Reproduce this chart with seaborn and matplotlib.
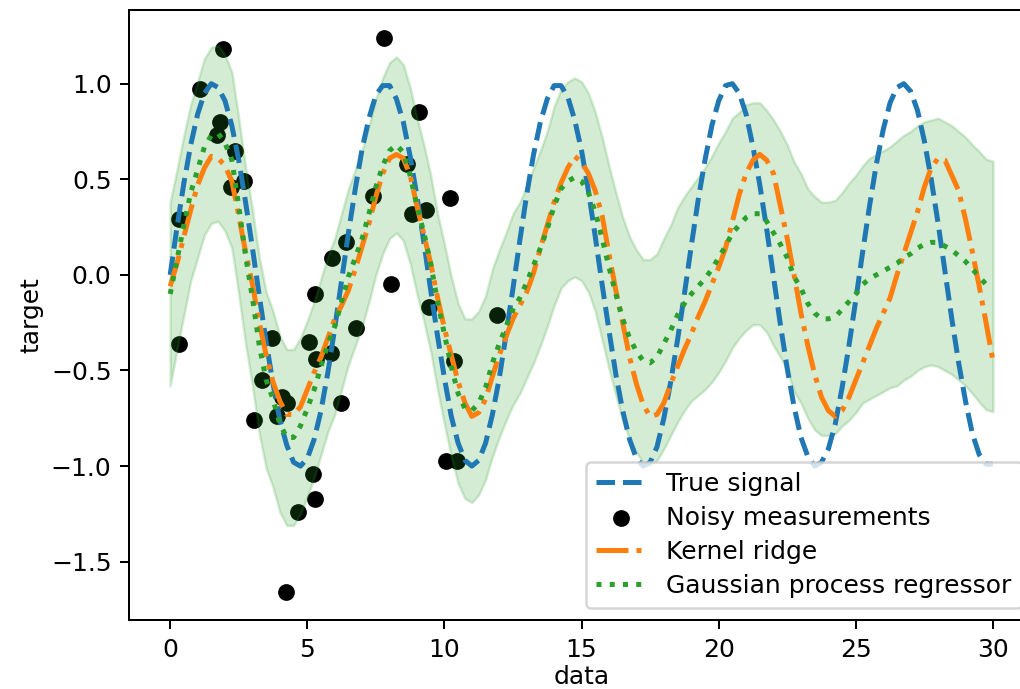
import numpy as np
import matplotlib
matplotlib.use("Agg")
import matplotlib.pyplot as plt
import seaborn as sns

# Evaluation grid (step 0.25 over [0, 30])
data_x = np.linspace(0, 30, 121)

true_signal = [
    0.00, 0.25, 0.48, 0.68, 0.84, 0.95, 1.00, 0.98, 0.91, 0.78, 0.60, 0.38,
    0.14, -0.11, -0.35, -0.57, -0.76, -0.89, -0.98, -1.00, -0.96, -0.86, -0.71, -0.51,
    -0.28, -0.03, 0.22, 0.45, 0.66, 0.82, 0.94, 0.99, 0.99, 0.92, 0.80, 0.62,
    0.41, 0.17, -0.08, -0.32, -0.54, -0.74, -0.88, -0.97, -1.00, -0.97, -0.88, -0.73,
    -0.54, -0.31, -0.07, 0.18, 0.42, 0.63, 0.80, 0.92, 0.99, 0.99, 0.93, 0.81,
    0.65, 0.44, 0.20, -0.05, -0.29, -0.52, -0.71, -0.86, -0.96, -1.00, -0.98, -0.90,
    -0.75, -0.56, -0.34, -0.10, 0.15, 0.39, 0.60, 0.78, 0.91, 0.99, 1.00, 0.95,
    0.84, 0.67, 0.47, 0.24, -0.01, -0.26, -0.49, -0.69, -0.85, -0.95, -1.00, -0.98,
    -0.91, -0.78, -0.59, -0.37, -0.13, 0.12, 0.36, 0.58, 0.76, 0.90, 0.98, 1.00,
    0.96, 0.86, 0.70, 0.50, 0.27, 0.02, -0.23, -0.46, -0.66, -0.83, -0.94, -0.99,
    -0.99,
]

kernel_ridge = [
    -0.06, 0.06, 0.20, 0.34, 0.47, 0.56, 0.62, 0.61, 0.57, 0.49, 0.31, 0.12,
    -0.05, -0.25, -0.42, -0.56, -0.66, -0.73, -0.73, -0.69, -0.60, -0.51, -0.43, -0.33,
    -0.23, -0.16, -0.08, 0.03, 0.15, 0.27, 0.41, 0.53, 0.61, 0.63, 0.61, 0.52,
    0.36, 0.21, 0.06, -0.12, -0.28, -0.42, -0.56, -0.67, -0.74, -0.72, -0.65, -0.53,
    -0.42, -0.32, -0.23, -0.16, -0.09, 0.01, 0.14, 0.26, 0.38, 0.48, 0.56, 0.62,
    0.59, 0.53, 0.44, 0.31, 0.11, -0.08, -0.25, -0.43, -0.57, -0.68, -0.74, -0.73,
    -0.67, -0.57, -0.48, -0.39, -0.31, -0.22, -0.14, -0.05, 0.04, 0.14, 0.28, 0.42,
    0.53, 0.60, 0.63, 0.60, 0.53, 0.36, 0.19, 0.00, -0.20, -0.37, -0.52, -0.64,
    -0.71, -0.74, -0.71, -0.64, -0.55, -0.46, -0.37, -0.28, -0.20, -0.12, 0.00, 0.11,
    0.22, 0.33, 0.46, 0.56, 0.61, 0.60, 0.52, 0.44, 0.29, 0.12, -0.06, -0.25,
    -0.45,
]

gpr_mean = [
    -0.10, 0.08, 0.26, 0.43, 0.55, 0.67, 0.73, 0.74, 0.69, 0.60, 0.36, 0.10,
    -0.12, -0.37, -0.55, -0.65, -0.78, -0.85, -0.85, -0.79, -0.70, -0.60, -0.48, -0.36,
    -0.27, -0.14, -0.01, 0.09, 0.19, 0.32, 0.46, 0.57, 0.65, 0.68, 0.64, 0.52,
    0.36, 0.22, 0.06, -0.14, -0.31, -0.48, -0.62, -0.70, -0.71, -0.67, -0.59, -0.46,
    -0.36, -0.27, -0.18, -0.12, -0.04, 0.05, 0.14, 0.24, 0.36, 0.45, 0.49, 0.51,
    0.49, 0.43, 0.33, 0.19, 0.04, -0.10, -0.23, -0.33, -0.40, -0.45, -0.46, -0.43,
    -0.36, -0.29, -0.21, -0.15, -0.10, -0.06, -0.02, 0.03, 0.09, 0.15, 0.22, 0.26,
    0.30, 0.32, 0.32, 0.28, 0.22, 0.16, 0.09, -0.01, -0.07, -0.15, -0.20, -0.23,
    -0.23, -0.22, -0.18, -0.14, -0.10, -0.05, -0.02, 0.00, 0.02, 0.04, 0.06, 0.09,
    0.11, 0.14, 0.16, 0.17, 0.17, 0.15, 0.13, 0.10, 0.07, 0.03, -0.01, -0.05,
    -0.06,
]

gpr_std = [
    0.48, 0.47, 0.47, 0.46, 0.46, 0.46, 0.46, 0.46, 0.46, 0.46, 0.46, 0.46,
    0.46, 0.46, 0.46, 0.46, 0.46, 0.46, 0.46, 0.46, 0.46, 0.46, 0.46, 0.46,
    0.46, 0.46, 0.46, 0.46, 0.46, 0.46, 0.46, 0.46, 0.46, 0.46, 0.46, 0.46,
    0.46, 0.46, 0.46, 0.46, 0.47, 0.47, 0.47, 0.47, 0.48, 0.48, 0.48, 0.49,
    0.49, 0.49, 0.50, 0.50, 0.50, 0.51, 0.51, 0.51, 0.52, 0.52, 0.52, 0.52,
    0.52, 0.52, 0.52, 0.53, 0.53, 0.53, 0.53, 0.53, 0.53, 0.53, 0.54, 0.54,
    0.55, 0.55, 0.56, 0.56, 0.56, 0.57, 0.58, 0.59, 0.60, 0.60, 0.60, 0.59,
    0.59, 0.58, 0.58, 0.58, 0.59, 0.59, 0.59, 0.60, 0.60, 0.60, 0.61, 0.61,
    0.61, 0.61, 0.61, 0.62, 0.62, 0.62, 0.63, 0.63, 0.63, 0.63, 0.64, 0.64,
    0.64, 0.64, 0.64, 0.64, 0.65, 0.65, 0.65, 0.65, 0.65, 0.65, 0.655, 0.655,
    0.655,
]

# Training samples (noisy observations)
noisy_x = [0.33, 0.33, 1.09, 1.93, 1.82, 1.71, 2.37, 2.70, 2.23, 3.07,
           3.36, 3.72, 3.90, 4.09, 4.27, 4.23, 4.67, 5.22, 5.29, 5.07,
           5.29, 5.33, 5.88, 5.91, 6.24, 6.42, 6.79, 7.40, 7.81, 8.07,
           8.65, 8.80, 9.09, 9.31, 9.42, 10.04, 10.22, 10.36, 10.47, 11.90]
noisy_y = [-0.36, 0.29, 0.97, 1.18, 0.80, 0.73, 0.65, 0.49, 0.46, -0.76,
           -0.55, -0.33, -0.74, -0.64, -0.67, -1.66, -1.24, -1.04, -1.17, -0.35,
           -0.10, -0.44, -0.41, 0.09, -0.67, 0.17, -0.28, 0.41, 1.24, -0.05,
           0.58, 0.32, 0.85, 0.34, -0.17, -0.975, 0.40, -0.45, -0.975, -0.21]

DPI = 180
fig = plt.figure(figsize=(1020 / DPI, 689 / DPI), dpi=DPI)
ax = fig.add_axes([0.1265, 0.1001, 0.8873, 0.8853])

sns.lineplot(x=data_x, y=true_signal, ax=ax, color="C0", lw=2, ls="--",
             sort=False, errorbar=None, label="True signal")
sns.scatterplot(x=noisy_x, y=noisy_y, ax=ax, color="black", s=45,
                linewidth=0, label="Noisy measurements")
sns.lineplot(x=data_x, y=kernel_ridge, ax=ax, color="C1", lw=2, ls="-.",
             sort=False, errorbar=None, label="Kernel ridge")
sns.lineplot(x=data_x, y=gpr_mean, ax=ax, color="C2", lw=2, ls=":",
             sort=False, errorbar=None, label="Gaussian process regressor")

mean = np.asarray(gpr_mean)
std = np.asarray(gpr_std)
ax.fill_between(data_x, mean - std, mean + std, color="tab:green", alpha=0.2)

ax.set_xlabel("data", labelpad=1.5)
ax.set_ylabel("target", labelpad=3)
ax.legend(loc="lower right", labelspacing=0.4, borderaxespad=0.5)

fig.savefig("out.png", dpi=DPI)
